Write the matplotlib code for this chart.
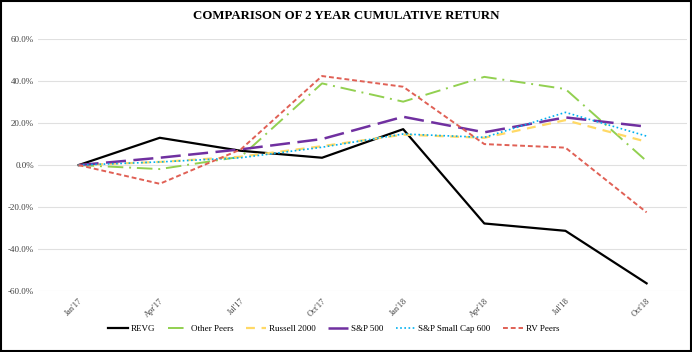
import numpy as np
import matplotlib.pyplot as plt
from matplotlib.patches import Rectangle

plt.rcParams['font.family'] = ['Liberation Serif', 'DejaVu Serif']

quarters = ["Jan'17", "Apr'17", "Jul'17", "Oct'17", "Jan'18", "Apr'18", "Jul'18", "Oct'18"]

revg = [0, 13.0, 6.8, 3.5, 17.1, -27.8, -31.3, -56.3]
other_peers = [0, -1.9, 4.0, 38.9, 30.2, 42.0, 36.2, 1.9]
russell = [0, 1.5, 4.0, 9.0, 14.5, 13.0, 21.4, 11.1]
sp500 = [0, 3.5, 7.5, 12.4, 23.0, 15.6, 22.7, 18.3]
sp600 = [0, 1.5, 3.5, 8.5, 14.8, 13.2, 25.1, 13.8]
rv_peers = [0, -8.9, 7.5, 42.4, 37.3, 10.0, 8.3, -22.5]

fig = plt.figure(figsize=(6.92, 3.52), dpi=100)
ax = fig.add_axes([0.055, 0.173, 0.938, 0.716])

x = np.arange(len(quarters))
ax.plot(x, revg, color='black', lw=1.6, label='REVG')
ax.plot(x, other_peers, color='#92D050', lw=1.4, ls=(0, (8, 3, 1, 3)), label='Other Peers')
ax.plot(x, russell, color='#FFD966', lw=1.6, ls=(0, (4, 3)), label='Russell 2000')
ax.plot(x, sp500, color='#7030A0', lw=1.8, ls=(0, (8, 3)), label='S&P 500')
ax.plot(x, sp600, color='#00B0F0', lw=1.2, ls=(0, (1, 1.5)), label='S&P Small Cap 600')
ax.plot(x, rv_peers, color='#E06055', lw=1.4, ls=(0, (2.5, 1.5)), label='RV Peers')

ax.set_xlim(-0.5, len(quarters) - 0.5)
ax.set_ylim(-60, 60)
ax.set_yticks(np.arange(-60, 61, 20))
ax.set_yticklabels([f'{v:.1f}%' for v in np.arange(-60, 61, 20)], fontsize=6.5, color='#404040')
ax.set_xticks(x)
ax.set_xticklabels(quarters, rotation=45, fontsize=6, ha='right', rotation_mode='anchor',
                   color='#404040')
ax.grid(axis='y', color='#E0E0E0', lw=0.8)
ax.set_axisbelow(True)
for s in ax.spines.values():
    s.set_visible(False)
ax.tick_params(length=0, pad=3)
ax.tick_params(axis='x', pad=4)

fig.text(0.5, 0.955, 'COMPARISON OF 2 YEAR CUMULATIVE RETURN', ha='center', va='center',
         fontsize=9.3, fontweight='bold')

fig.legend(loc='center left', bbox_to_anchor=(0.145, 0.066), ncol=6, frameon=False,
           fontsize=6.5, handlelength=2.2, columnspacing=1.4, handletextpad=0.3)

fig.patches.append(Rectangle((0.001, 0.002), 0.997, 0.995, transform=fig.transFigure,
                             fill=False, edgecolor='black', lw=1.5))

fig.savefig('out.png', dpi=100)
